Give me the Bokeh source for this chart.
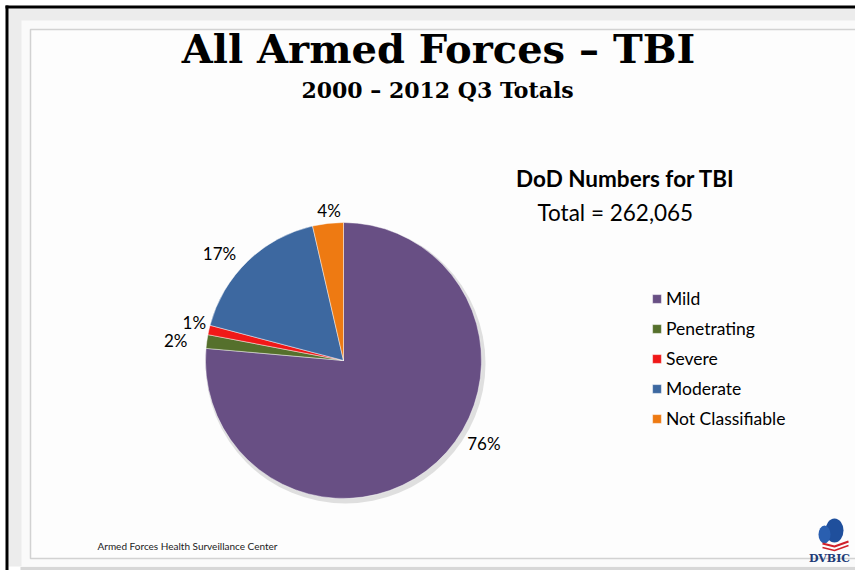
import math
from bokeh.plotting import figure
from bokeh.models import Range1d, ColumnDataSource, Legend, LegendItem
from bokeh.core.properties import value
from bokeh.embed import file_html
from bokeh.resources import INLINE

# ---------------- data ----------------
categories = ["Mild", "Penetrating", "Severe", "Moderate", "Not Classifiable"]
shares = [76.4, 1.6, 1.1, 17.3, 3.6]          # percent of all TBI cases
colors = ["#684f84", "#55702c", "#f01818", "#3d68a0", "#ee7a12"]
TOTAL = 262065
title = "All Armed Forces \u2013 TBI"
subtitle = "2000 \u2013 2012 Q3 Totals"
side_title = "DoD Numbers for TBI"
source_note = "Armed Forces Health Surveillance Center"

# label layout (distance from centre in px, angle shift in degrees)
LABEL_R = [163, 169, 154, 164, 151]
LABEL_SHIFT = [-17, -1, 1.5, -5, 1]

W, H = 855, 570


def X(xs):
    return xs


def Y(ys):
    return H - ys


p = figure(width=W, height=H, x_range=Range1d(0, W), y_range=Range1d(0, H),
           output_backend="svg", toolbar_location=None, min_border=0,
           x_axis_type=None, y_axis_type=None, outline_line_color=None,
           background_fill_color="#ffffff", border_fill_color="#ffffff")
p.xgrid.visible = False
p.ygrid.visible = False

# slide frame
p.quad(left=[X(8)], right=[X(870)], top=[Y(8)], bottom=[Y(566)],
       fill_color="#ececec", line_color=None)
p.quad(left=[X(21)], right=[X(870)], top=[Y(20)], bottom=[Y(566)],
       fill_color="#fafafa", line_color=None)
p.line([X(20), X(870)], [Y(568), Y(568)], line_color="#bdbdbd", line_width=3, line_alpha=0.6)
p.quad(left=[X(30)], right=[X(860)], top=[Y(29)], bottom=[Y(558)],
       fill_color="#fdfdfd", line_color="#d2d2d2", line_width=1.5)
# black slide edge (top and left)
p.quad(left=[X(5)], right=[X(870)], top=[Y(5)], bottom=[Y(8)], fill_color="black", line_color=None)
p.quad(left=[X(5)], right=[X(8)], top=[Y(5)], bottom=[Y(580)], fill_color="black", line_color=None)

# titles
p.text(x=[X(438)], y=[Y(48)], text=[title], text_align="center", text_baseline="alphabetic",
       text_font=value("DejaVu Serif"), text_font_style="bold", text_font_size="40px",
       text_color="black")
p.text(x=[X(437)], y=[Y(89)], text=[subtitle], text_align="center", text_baseline="alphabetic",
       text_font=value("DejaVu Serif"), text_font_style="bold", text_font_size="22px",
       text_color="black")

# pie
cx, cy, r = X(343), Y(360), 138
total_share = sum(shares)
c0, starts, ends, mids = 0.0, [], [], []
for s in shares:
    c1 = c0 + s / total_share
    starts.append(math.radians(90 - c1 * 360))
    ends.append(math.radians(90 - c0 * 360))
    mids.append((c0 + c1) / 2 * 360)
    c0 = c1

# soft shadow
p.circle(x=[cx + 2], y=[cy - 3], radius=r + 2, fill_color="#888888", fill_alpha=0.25, line_color=None)

src = ColumnDataSource(dict(cat=categories, start=starts, end=ends, color=colors))
wr = p.wedge(x=cx, y=cy, radius=r, start_angle="start", end_angle="end", direction="anticlock",
             fill_color="color", line_color="#ffffff", line_alpha=0.45, line_width=1, source=src)

# data labels
lx, ly, lt = [], [], []
for s, m, d, sh in zip(shares, mids, LABEL_R, LABEL_SHIFT):
    phi = math.radians(90 - (m + sh))
    lx.append(cx + d * math.cos(phi))
    ly.append(cy + d * math.sin(phi))
    lt.append(f"{round(s)}%")
p.text(x=lx, y=ly, text=lt, text_align="center", text_baseline="middle",
       text_font=value("Lato"), text_font_size="17px", text_color="black")

# side heading
p.text(x=[X(625)], y=[Y(178)], text=[side_title], text_align="center", text_baseline="middle",
       text_font=value("Lato"), text_font_style="bold", text_font_size="22.5px", text_color="black")
p.text(x=[X(537)], y=[Y(212)], text=[f"Total = {TOTAL:,}"], text_align="left", text_baseline="middle",
       text_font=value("Lato"), text_font_size="22.5px", text_color="black")

# legend
items = [LegendItem(label=c, renderers=[wr], index=i) for i, c in enumerate(categories)]
legend = Legend(items=items, location=(X(651), Y(429)), orientation="vertical",
                glyph_width=11, glyph_height=11, label_height=20, spacing=9, padding=0, margin=0,
                label_standoff=4, label_text_font="Lato", label_text_font_size="17.5px",
                label_text_color="black", border_line_color=None, background_fill_alpha=0)
p.add_layout(legend, "center")

# footer
p.text(x=[X(97)], y=[Y(545)], text=[source_note], text_align="left", text_baseline="middle",
       text_font=value("Lato"), text_font_size="10px", text_color="#222222")

# DVBIC logo (approximation)
p.ellipse(x=[X(834)], y=[Y(530)], width=18, height=24, fill_color="#1f4f9c", line_color=None)
p.ellipse(x=[X(824)], y=[Y(534)], width=12, height=18, fill_color="#2a5fb0", line_color=None)
p.line([X(822), X(834), X(848)], [Y(543), Y(546), Y(541)], line_color="#d0202a", line_width=2)
p.line([X(822), X(834), X(848)], [Y(547), Y(550), Y(545)], line_color="#d0202a", line_width=1.5)
p.text(x=[X(829)], y=[Y(558)], text=["DVBIC"], text_align="center", text_baseline="middle",
       text_font=value("DejaVu Serif"), text_font_style="bold", text_font_size="11px",
       text_color="#1f3c78")

open("out.html", "w").write(file_html(p, INLINE))
